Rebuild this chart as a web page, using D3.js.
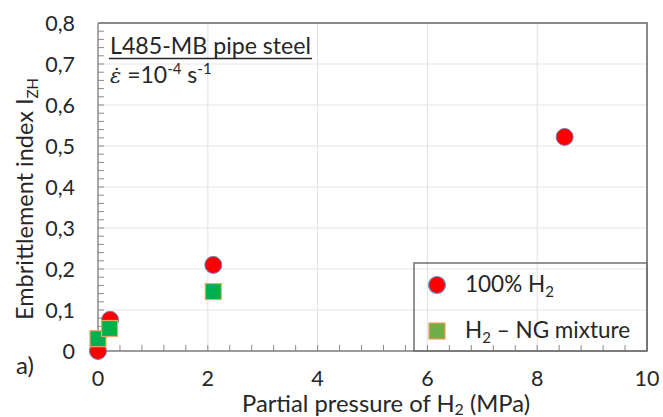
<!DOCTYPE html>
<html><head><meta charset="utf-8">
<script src="https://cdn.jsdelivr.net/npm/d3@7"></script>
<style>
html,body{margin:0;padding:0;background:#fff;}
svg text{font-family:Lato,"Open Sans",sans-serif;fill:#262626;}
</style></head>
<body><svg id="c" width="663" height="417"></svg>
<script>
// ---- data ----
const xTicks = [0, 2, 4, 6, 8, 10];
const yTicks = [0, 0.1, 0.2, 0.3, 0.4, 0.5, 0.6, 0.7, 0.8];
const yTickLabels = ["0", "0,1", "0,2", "0,3", "0,4", "0,5", "0,6", "0,7", "0,8"];
const h2Pressure = [0, 0.22, 2.1, 8.5];
const h2Index = [0, 0.076, 0.21, 0.522];
const mixPressure = [0, 0.21, 2.1];
const mixIndex = [0.03, 0.055, 0.145];
const seriesNames = ["100% H", "H"];

const svg = d3.select("#c");
const L = 98, R = 647, T = 23, B = 351;
const x = d3.scaleLinear().domain([0, 10]).range([L, R]);
const y = d3.scaleLinear().domain([0, 0.8]).range([B, T]);

// grid
svg.append("g").selectAll("line").data(xTicks.filter(d => d > 0 && d < 10)).join("line")
  .attr("x1", d => x(d)).attr("x2", d => x(d)).attr("y1", T).attr("y2", B)
  .attr("stroke", "#e6e6e6").attr("stroke-width", 1.2);
svg.append("g").selectAll("line").data(yTicks.filter(d => d > 0 && d < 0.8)).join("line")
  .attr("x1", L).attr("x2", R).attr("y1", d => y(d)).attr("y2", d => y(d))
  .attr("stroke", "#e6e6e6").attr("stroke-width", 1.2);

// frame top/right
svg.append("path").attr("d", `M${L},${T}H${R}V${B}`).attr("fill", "none")
  .attr("stroke", "#8a8a8a").attr("stroke-width", 2);

// minor ticks
const yMinor = d3.range(0, 41).map(i => i * 0.02);
svg.append("g").selectAll("line").data(yMinor).join("line")
  .attr("x1", L).attr("x2", L + 6).attr("y1", d => y(d)).attr("y2", d => y(d))
  .attr("stroke", "#8a8a8a").attr("stroke-width", 1);
const xMinor = d3.range(0, 26).map(i => i * 0.4);
svg.append("g").selectAll("line").data(xMinor).join("line")
  .attr("x1", d => x(d)).attr("x2", d => x(d)).attr("y1", B).attr("y2", B - 6)
  .attr("stroke", "#8a8a8a").attr("stroke-width", 1);

// axes lines
svg.append("line").attr("x1", L).attr("x2", L).attr("y1", T).attr("y2", B).attr("stroke", "#8a8a8a").attr("stroke-width", 1.5);
svg.append("line").attr("x1", L).attr("x2", R).attr("y1", B).attr("y2", B).attr("stroke", "#7a7a7a").attr("stroke-width", 1.5);

// tick labels
svg.append("g").selectAll("text").data(yTicks).join("text")
  .attr("x", 75).attr("y", d => y(d)).attr("dy", "0.36em").attr("text-anchor", "end")
  .attr("font-size", 21.5).text((d, i) => yTickLabels[i]);
svg.append("g").selectAll("text").data(xTicks).join("text")
  .attr("x", d => x(d)).attr("y", 378).attr("dy", "0.36em").attr("text-anchor", "middle")
  .attr("font-size", 21.5).text(d => d);

// axis titles
const xt = svg.append("text").attr("x", 386).attr("y", 411.5).attr("text-anchor", "middle").attr("font-size", 22.5)
  .attr("textLength", 288).attr("lengthAdjust", "spacingAndGlyphs");
xt.append("tspan").text("Partial pressure of H");
xt.append("tspan").attr("font-size", 15).attr("dy", 3).text("2");
xt.append("tspan").attr("dy", -3).text(" (MPa)");

const yt = svg.append("text").attr("transform", "translate(33,199) rotate(-90)").attr("text-anchor", "middle").attr("font-size", 23.5);
yt.append("tspan").text("Embrittlement index I");
yt.append("tspan").attr("font-size", 15).attr("dy", 5).text("ZH");

svg.append("text").attr("x", 16).attr("y", 374).attr("font-size", 24).text("a)");

// annotation
svg.append("text").attr("x", 110).attr("y", 54).attr("font-size", 23)
  .attr("textLength", 201).attr("lengthAdjust", "spacingAndGlyphs").text("L485-MB pipe steel");
svg.append("line").attr("x1", 109).attr("x2", 312).attr("y1", 58.5).attr("y2", 58.5).attr("stroke", "#262626").attr("stroke-width", 1.4);
const an = svg.append("text").attr("x", 110).attr("y", 83).attr("font-size", 23);
an.append("tspan").attr("font-style", "italic").attr("font-family", "DejaVu Serif").attr("font-size", 21).text("ε̇");
an.append("tspan").text(" =10");
an.append("tspan").attr("font-size", 15).attr("dy", -9).text("-4");
an.append("tspan").attr("dy", 9).text(" s");
an.append("tspan").attr("font-size", 15).attr("dy", -9).text("-1");

// data points
svg.append("g").selectAll("circle").data(h2Pressure).join("circle")
  .attr("cx", d => x(d)).attr("cy", (d, i) => y(h2Index[i])).attr("r", 8.5)
  .attr("fill", "#ff0000").attr("stroke", "#6f7fc0").attr("stroke-width", 1);
const s = 16;
svg.append("g").selectAll("rect").data(mixPressure).join("rect")
  .attr("x", d => x(d) - s / 2).attr("y", (d, i) => y(mixIndex[i]) - s / 2)
  .attr("width", s).attr("height", s)
  .attr("fill", "#00b050").attr("stroke", "#f4a460").attr("stroke-width", 1.2);

// legend
const lg = svg.append("g");
lg.append("rect").attr("x", 414).attr("y", 263).attr("width", 233).attr("height", 88)
  .attr("fill", "none").attr("stroke", "#707070").attr("stroke-width", 1.5);
lg.append("circle").attr("cx", 437).attr("cy", 285).attr("r", 8.5)
  .attr("fill", "#ff0000").attr("stroke", "#5b9bd5").attr("stroke-width", 1.2);
lg.append("rect").attr("x", 429).attr("y", 323).attr("width", 16).attr("height", 16)
  .attr("fill", "#70ad47").attr("stroke", "#ed9d5f").attr("stroke-width", 1.2);
const l1 = lg.append("text").attr("x", 465).attr("y", 292).attr("font-size", 22.5);
l1.append("tspan").text(seriesNames[0]);
l1.append("tspan").attr("font-size", 15).attr("dy", 5).text("2");
const l2 = lg.append("text").attr("x", 465).attr("y", 338).attr("font-size", 22.5);
l2.append("tspan").text(seriesNames[1]);
l2.append("tspan").attr("font-size", 15).attr("dy", 5).text("2");
l2.append("tspan").attr("dy", -5).text(" – NG mixture");
</script></body></html>
